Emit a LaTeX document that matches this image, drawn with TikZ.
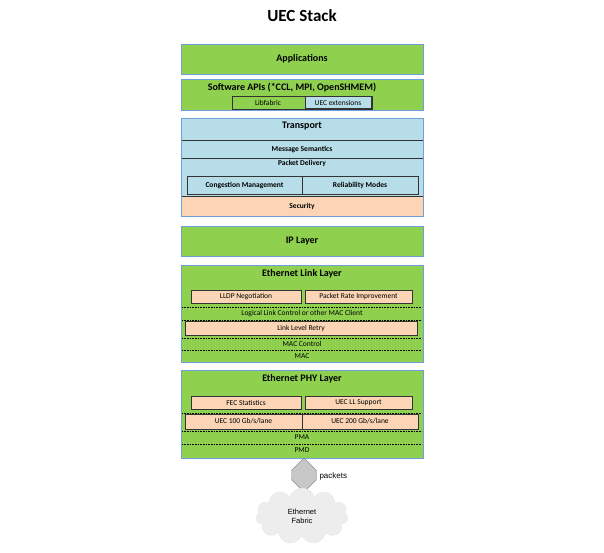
\documentclass[tikz,border=0pt]{standalone}
\usepackage{fontspec}
\setmainfont{Carlito}
\newfontfamily\arialf{Liberation Sans}
\usetikzlibrary{shapes.symbols,shapes.arrows}
\definecolor{lgreen}{HTML}{8FD14F}
\definecolor{lblue}{HTML}{B7DDE8}
\definecolor{peach}{HTML}{FBD5B5}
\definecolor{bord}{HTML}{6F9FD8}
\begin{document}
\begin{tikzpicture}[x=1pt,y=-1pt,
  layer/.style={fill=lgreen,draw=bord,line width=1pt},
  sub/.style={draw=black!80,line width=0.5pt},
  hdr/.style={font=\bfseries\fontsize{10}{11}\selectfont},
  sm/.style={font=\fontsize{7.5}{8}\selectfont},
  smb/.style={font=\bfseries\fontsize{7.5}{8}\selectfont},
  dl/.style={densely dotted,line width=0.6pt}]
\path[use as bounding box] (0,0) rectangle (604,552);
\node[font=\bfseries\fontsize{17}{19}\selectfont] (title) at (302,16) {UEC Stack};
% Applications
\draw[layer] (181,44) rectangle (423,74);
\node[hdr] (app) at (302,59) {Applications};
% APIs
\draw[layer] (181,79) rectangle (423,110);
\node[hdr] (api) at (292,88) {Software APIs (*CCL, MPI, OpenSHMEM)};
\draw[sub] (232,96) rectangle (372,109);
\node[sm] (lib) at (268,102.5) {Libfabric};
\draw[sub,fill=lblue] (305,96.5) rectangle (371,108.5);
\node[sm] (uecx) at (338,102.5) {UEC extensions};
% Transport
\draw[fill=lblue,draw=bord,line width=1pt] (181,118) rectangle (423,216);
\draw[sub] (181,140) -- (423,140) (181,158) -- (423,158);
\draw[sub,fill=peach] (181,196) rectangle (423,216);
\draw[draw=bord,line width=1pt] (181,118) rectangle (423,216);
\node[hdr] (tr) at (302,126) {Transport};
\node[smb] (ms) at (302,149) {Message Semantics};
\node[smb] (pd) at (302,163) {Packet Delivery};
\draw[sub] (187,176) rectangle (418,194) (302,176) -- (302,194);
\node[smb] (cm) at (244.5,185) {Congestion Management};
\node[smb] (rm) at (360,185) {Reliability Modes};
\node[smb] (sec) at (302,206) {Security};
% IP
\draw[layer] (181,226) rectangle (423,256);
\node[hdr] (ip) at (302,241) {IP Layer};
% Link layer
\draw[layer] (181,265) rectangle (423,362);
\node[hdr] (ell) at (302,274) {Ethernet Link Layer};
\draw[sub,fill=peach] (191,290) rectangle (301,303);
\node[sm] (lldp) at (246,296.5) {LLDP Negotiation};
\draw[sub,fill=peach] (305,290) rectangle (412,303);
\node[sm] (pri) at (358.5,296.5) {Packet Rate Improvement};
\draw[dl] (182,307) -- (422,307) (182,320) -- (422,320) (182,338) -- (422,338) (182,350) -- (422,350);
\node[sm] (llc) at (302,313.5) {Logical Link Control or other MAC Client};
\draw[sub,fill=peach] (185,321.5) rectangle (417,335);
\node[sm] (llr) at (301,328) {Link Level Retry};
\node[sm] (macc) at (302,344) {MAC Control};
\node[sm] (mac) at (302,356) {MAC};
% PHY
\draw[layer] (181,370) rectangle (423,458);
\node[hdr] (phy) at (302,379) {Ethernet PHY Layer};
\draw[sub,fill=peach] (191,396) rectangle (301,409);
\node[sm] (fec) at (246,402.5) {FEC Statistics};
\draw[sub,fill=peach] (305,396) rectangle (412,409);
\node[sm] (ull) at (358.5,402.5) {UEC LL Support};
\draw[dl] (182,413) -- (422,413) (182,431) -- (422,431) (182,444) -- (422,444);
\draw[sub,fill=peach] (185,414.5) rectangle (418,429) (302,414.5) -- (302,429);
\node[sm] (u100) at (243.5,421.5) {UEC 100 Gb/s/lane};
\node[sm] (u200) at (360,421.5) {UEC 200 Gb/s/lane};
\node[sm] (pma) at (302,437.5) {PMA};
\node[sm] (pmd) at (302,450.5) {PMD};
% arrow & cloud
\node[double arrow,rotate=90,fill=black!22,draw=black!45,minimum height=34pt,minimum width=25pt,double arrow head extend=0pt,inner sep=3pt] (arr) at (304,475) {};
\node[font=\arialf\fontsize{8}{9}\selectfont,anchor=west] (pk) at (316,476) {packets};
\node[cloud,cloud puffs=11,aspect=1.7,fill=black!7,draw=black!10,minimum width=92pt,minimum height=56pt,align=center,font=\arialf\fontsize{7.5}{9}\selectfont] (cl) at (302,516) {Ethernet\\Fabric};
\end{tikzpicture}
\end{document}
